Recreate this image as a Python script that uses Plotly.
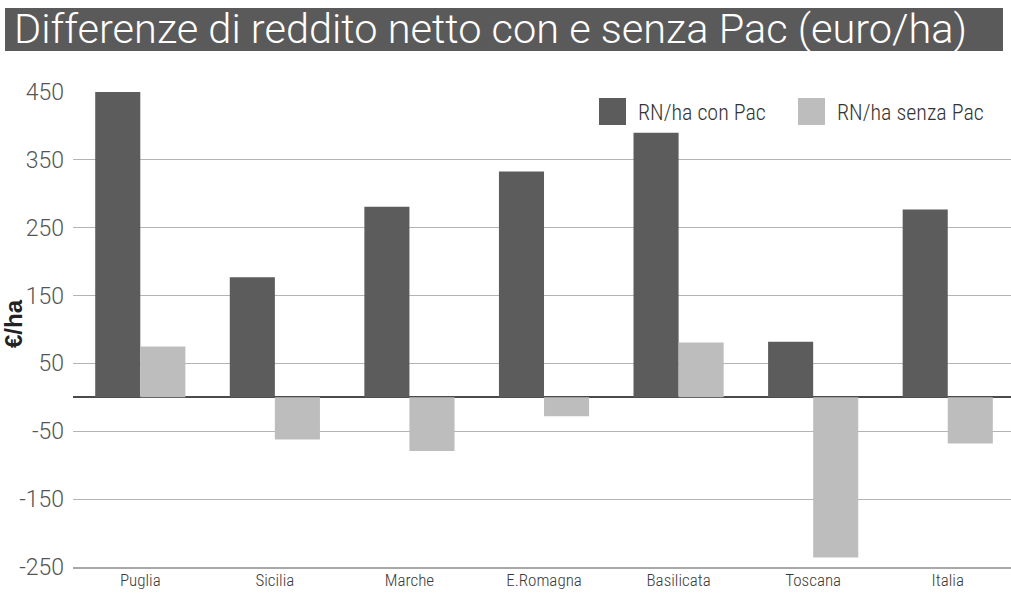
import plotly.graph_objects as go

categories = ["Puglia", "Sicilia", "Marche", "E.Romagna", "Basilicata", "Toscana", "Italia"]
con_pac = [450, 177, 281, 333, 390, 82, 277]
senza_pac = [75, -62, -79, -28, 81, -236, -68]
series_names = ["RN/ha con Pac", "RN/ha senza Pac"]
tick_vals = [450, 350, 250, 150, 50, -50, -150, -250]
title_text = "Differenze di reddito netto con e senza Pac (euro/ha)"
y_title = "€/ha"

DARK = "#5c5c5c"
LIGHT = "#bdbdbd"
NARROW = "Roboto Condensed, Liberation Sans Narrow, DejaVu Sans Condensed, sans-serif"
LIGHTFONT = "Roboto, Inter, sans-serif"

W, H = 1011, 595
L, R, T, B = 73, 0, 92, 28
PW, PH = W - L - R, H - T - B


def px(x):
    return (x - L) / PW


def py(y):
    return (H - B - y) / PH


fig = go.Figure()
fig.add_trace(go.Bar(x=categories, y=con_pac, name=series_names[0],
                     marker=dict(color=DARK, line=dict(width=0)), showlegend=False))
fig.add_trace(go.Bar(x=categories, y=senza_pac, name=series_names[1],
                     marker=dict(color=LIGHT, line=dict(width=0)), showlegend=False))

shapes = [
    # title bar
    dict(type="rect", xref="paper", yref="paper", x0=px(5), x1=px(1003), y0=py(51), y1=py(8),
         fillcolor="#5a5a5a", line=dict(width=0), layer="above"),
    # legend swatches
    dict(type="rect", xref="paper", yref="paper", x0=px(599), x1=px(626), y0=py(125), y1=py(98),
         fillcolor=DARK, line=dict(width=0), layer="above"),
    dict(type="rect", xref="paper", yref="paper", x0=px(798), x1=px(825), y0=py(125), y1=py(98),
         fillcolor=LIGHT, line=dict(width=0), layer="above"),
]

annotations = [
    dict(text=title_text, xref="paper", yref="paper", x=px(12), y=py(28.5), xanchor="left",
         yanchor="middle", showarrow=False,
         font=dict(family=LIGHTFONT, size=41.5, color="white", weight=300)),
    dict(text=series_names[0], xref="paper", yref="paper", x=px(636), y=py(112), xanchor="left",
         yanchor="middle", showarrow=False,
         font=dict(family=NARROW, size=22, color="#333333", weight=300)),
    dict(text=series_names[1], xref="paper", yref="paper", x=px(835), y=py(112), xanchor="left",
         yanchor="middle", showarrow=False,
         font=dict(family=NARROW, size=22, color="#333333", weight=300)),
    dict(text=y_title, xref="paper", yref="paper", x=px(13), y=py(324), xanchor="center",
         yanchor="middle", textangle=-90, showarrow=False,
         font=dict(family="Liberation Sans, Arial, sans-serif", size=24, color="#222222", weight="bold")),
]

fig.update_layout(
    width=W, height=H,
    margin=dict(l=L, r=R, t=T, b=B, pad=0),
    paper_bgcolor="white", plot_bgcolor="white",
    barmode="group", bargap=0.33, bargroupgap=0,
    shapes=shapes, annotations=annotations,
    showlegend=False,
)
fig.update_xaxes(
    type="category", range=[-0.5, 6.47], showgrid=False, zeroline=False,
    showline=True, linecolor="#a8a8a8", linewidth=2,
    ticks="", tickfont=dict(family=NARROW, size=17, color="#3a3a3a", weight=300), ticklabelstandoff=-3,
)
fig.update_yaxes(
    range=[-250, 450], tickvals=tick_vals, ticktext=[str(v) for v in tick_vals],
    showgrid=True, gridcolor="#b4b4b4", gridwidth=1,
    zeroline=True, zerolinecolor="#4a4a4a", zerolinewidth=2,
    showline=False, ticks="", ticklabelstandoff=8,
    tickfont=dict(family=LIGHTFONT, size=23, color="#555555", weight=300),
)

fig.write_html("out.html")
